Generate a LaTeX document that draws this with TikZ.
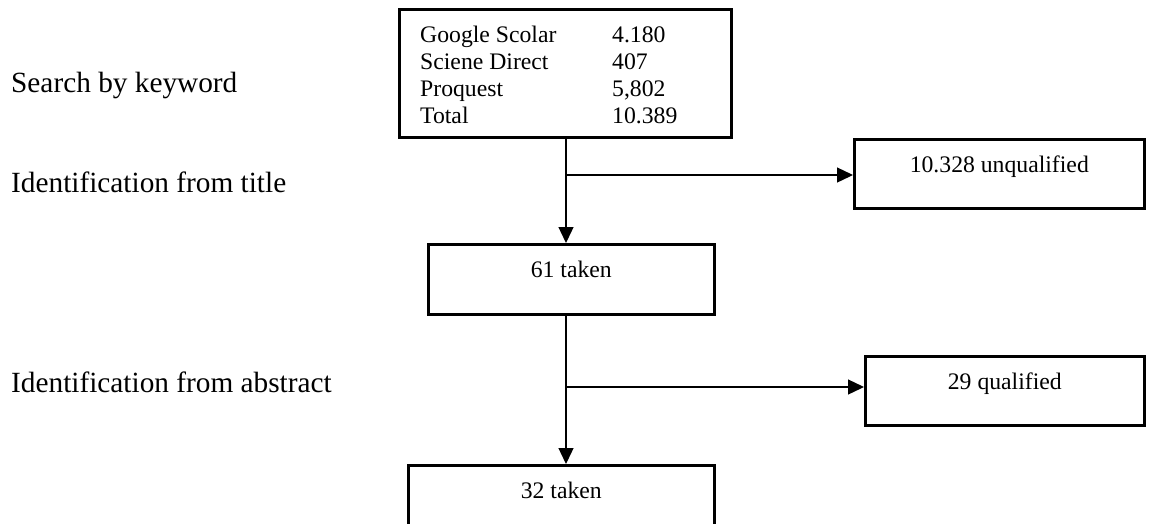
\documentclass[tikz,border=0pt]{standalone}
\usepackage{fontspec}
\setmainfont{Liberation Serif}
\usetikzlibrary{arrows.meta}
\begin{document}
\begin{tikzpicture}[x=1pt,y=-1pt,
  box/.style={draw, line width=2.6pt, inner sep=0pt, anchor=north west},
  boxtxt/.style={inner sep=0pt, anchor=base, font=\fontsize{23.7}{28}\selectfont},
  srctxt/.style={inner sep=0pt, anchor=base west, font=\fontsize{23.7}{28}\selectfont},
  lbl/.style={inner sep=0pt, anchor=base west, font=\fontsize{29.3}{34}\selectfont},
  conn/.style={line width=1.3pt, -{Triangle[length=16pt,width=15pt]}},
  link/.style={line width=1.3pt}]
\useasboundingbox (0,0) rectangle (1158,523);
\clip (0,0) rectangle (1158,523);
\fill[white] (0,0) rectangle (1158,523);

% left labels
\node[lbl] (l1) at (11,92) {Search by keyword};
\node[lbl] (l2) at (11,192) {Identification from title};
\node[lbl] (l3) at (11,392) {Identification from abstract};

% source box
\node[box, minimum width=332pt, minimum height=128pt] (src) at (398,8) {};
\node[srctxt] (g1) at (420,42) {Google Scolar};
\node[srctxt] (g2) at (612,42) {4.180};
\node[srctxt] (s1) at (420,69) {Sciene Direct};
\node[srctxt] (s2) at (612,69) {407};
\node[srctxt] (p1) at (420,96) {Proquest};
\node[srctxt] (p2) at (612,96) {5,802};
\node[srctxt] (t1) at (420,123) {Total};
\node[srctxt] (t2) at (612,123) {10.389};

% other boxes
\node[box, minimum width=290pt, minimum height=69pt] (unq) at (853,138) {};
\node[boxtxt] (unqt) at ([yshift=-34pt]unq.north) {10.328 unqualified};

\node[box, minimum width=286pt, minimum height=70pt] (t61) at (427,243) {};
\node[boxtxt] (t61t) at ([yshift=-34pt]t61.north) {61 taken};

\node[box, minimum width=279pt, minimum height=69pt] (qual) at (864,355) {};
\node[boxtxt] (qualt) at ([yshift=-34pt]qual.north) {29 qualified};

\node[box, minimum width=306pt, minimum height=120pt] (t32) at (407,464) {};
\node[boxtxt] (t32t) at ([yshift=-34pt]t32.north) {32 taken};

% connectors
\coordinate (v) at (566,0);
\coordinate (br1) at (566,175);
\coordinate (br2) at (566,387);
\draw[conn] (src.south -| v) -- (t61.north -| v);
\draw[conn] (br1) -- (unq.west |- br1);
\draw[conn] (t61.south -| v) -- (t32.north -| v);
\draw[conn] (br2) -- (qual.west |- br2);
\end{tikzpicture}
\end{document}
